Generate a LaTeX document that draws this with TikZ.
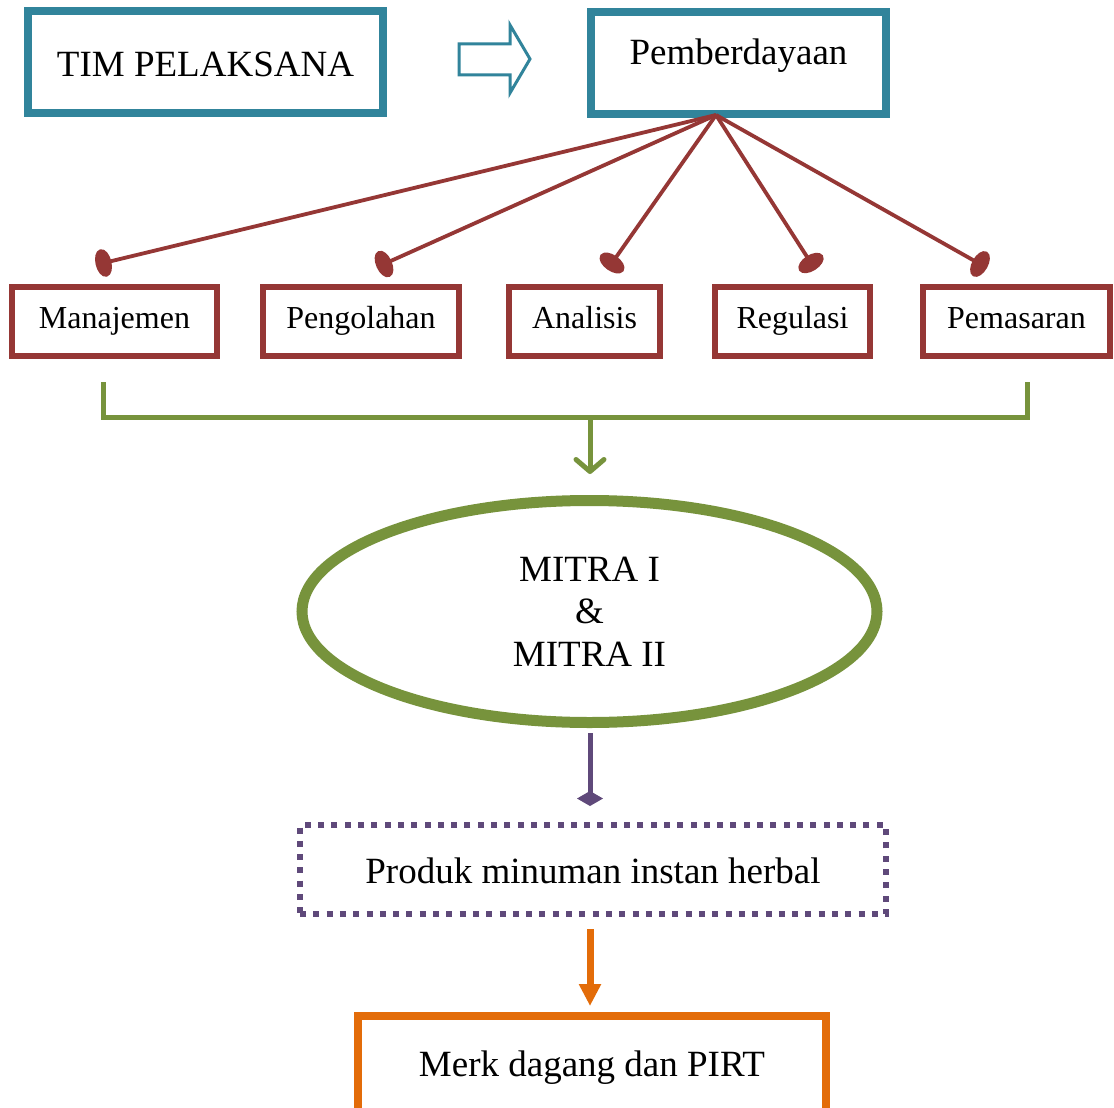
\documentclass[tikz,border=0pt]{standalone}
\usepackage{fontspec}
\setmainfont{Liberation Serif}
\usetikzlibrary{arrows.meta,shapes.geometric}
\definecolor{teal1}{HTML}{31849B}
\definecolor{red1}{HTML}{953735}
\definecolor{green1}{HTML}{77933C}
\definecolor{purple1}{HTML}{5F497A}
\definecolor{orange1}{HTML}{E36C09}
\tikzset{
  topbox/.style={draw=teal1,line width=8pt,minimum width=295pt,minimum height=102pt,
    font=\fontsize{37}{44}\selectfont,inner sep=0pt},
  redbox/.style={draw=red1,line width=6pt,minimum height=69pt,inner sep=0pt,
    font=\fontsize{32}{38}\selectfont,text height=22pt,text depth=9pt},
  redline/.style={draw=red1,line width=3.8pt,-{Ellipse[length=16pt,width=28pt]},shorten >=-8pt},
  bigtext/.style={font=\fontsize{37}{42.5}\selectfont}
}
\begin{document}
\begin{tikzpicture}[x=1pt,y=-1pt]
\useasboundingbox[fill=white] (0,0) rectangle (1114,1108);
% top boxes
\node[topbox,minimum width=355pt,text height=35pt,text depth=5pt] (tim) at (205.5,62) {TIM PELAKSANA};
\node[topbox,text height=20pt,text depth=16pt] (pem) at (738.5,63) {Pemberdayaan};
% hollow arrow
\draw[teal1,line width=3pt,line join=miter] (459,44) -- (510,44) -- (510,25) -- (530,59) -- (510,93) -- (510,75) -- (459,75) -- cycle;
% red boxes
\node[redbox,minimum width=205pt] (man) at (114.5,321.5) {Manajemen};
\node[redbox,minimum width=196pt] (peng) at (361,321.5) {Pengolahan};
\node[redbox,minimum width=151pt] (ana) at (584.5,321.5) {Analisis};
\node[redbox,minimum width=155pt] (reg) at (792.5,321.5) {Regulasi};
\node[redbox,minimum width=187pt] (pms) at (1016.5,321.5) {Pemasaran};
% red connectors
\coordinate (hub) at (716,115);
\coordinate (dM) at (103.5,263);
\coordinate (dP) at (384,264);
\coordinate (dA) at (612,263);
\coordinate (dR) at (811,263);
\coordinate (dS) at (980,264);
\draw[redline] (hub) -- (dM);
\draw[redline] (hub) -- (dP);
\draw[redline] (hub) -- (dA);
\draw[redline] (hub) -- (dR);
\draw[redline] (hub) -- (dS);
% ellipse
\node[draw=green1,line width=11pt,ellipse,minimum width=575pt,minimum height=222pt,
  align=center,bigtext,inner sep=0pt] (mitra) at (589.5,611.5) {MITRA I\\\&\\MITRA II};
% green bracket
\coordinate (gL) at (103.5,382);
\coordinate (gR) at (1027,382);
\coordinate (gM) at (590,417);
\draw[green1,line width=5pt] (gL) |- (gM) -| (gR);
\draw[green1,line width=5pt,-{Straight Barb[length=12pt,width=28pt,round]},shorten >=21pt] (gM) -- (mitra.north -| gM);
% product box
\node[draw=purple1,line width=6pt,dash pattern=on 6pt off 7.3pt,minimum width=586pt,minimum height=89pt,
  inner sep=0pt,bigtext,text height=28pt,text depth=1pt] (prod) at (593,869.5) {Produk minuman instan herbal};
\draw[purple1,line width=5pt,-{Diamond[length=15pt,width=26pt]},shorten <=5pt,shorten >=16pt] (mitra.south -| gM) -- (prod.north -| gM);
% merk box
\node[draw=orange1,line width=8pt,minimum width=468pt,minimum height=100pt,inner sep=0pt,
  bigtext,text height=24pt,text depth=4pt] (merk) at (592,1066) {Merk dagang dan PIRT};
\draw[orange1,line width=7pt,-{Triangle[length=22pt,width=21pt]},shorten <=12pt,shorten >=6pt] (prod.south -| gM) -- (merk.north -| gM);
\end{tikzpicture}
\end{document}
